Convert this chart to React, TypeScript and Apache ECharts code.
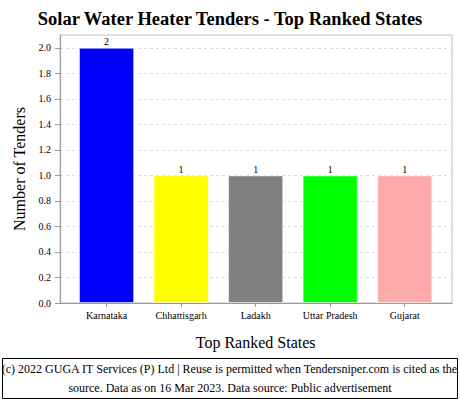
import { useEffect, useRef } from "react";
import * as echarts from "echarts";

const states = ["Karnataka", "Chhattisgarh", "Ladakh", "Uttar Pradesh", "Gujarat"];
const tenders = [2, 1, 1, 1, 1];
const barColors = ["#0000ff", "#ffff00", "#808080", "#00ff00", "#ffaaaa"];
const footerLines = [
  "(c) 2022 GUGA IT Services (P) Ltd | Reuse is permitted when Tendersniper.com is cited as the",
  "source. Data as on 16 Mar 2023. Data source: Public advertisement",
];

const serif = "'Liberation Serif', 'DejaVu Serif', serif";
const axisGray = "#999";

export default function App() {
  const ref = useRef<HTMLDivElement>(null);

  useEffect(() => {
    if (!ref.current) return;
    const chart = echarts.init(ref.current, undefined, { renderer: "svg" });
    chart.setOption({
      animation: false,
      backgroundColor: "#fff",
      title: {
        text: "Solar Water Heater Tenders - Top Ranked States",
        left: "center",
        top: 4,
        textStyle: { fontFamily: serif, fontSize: 18.5, fontWeight: "bold", color: "#000" },
      },
      grid: [
        // outer frame: y axis, grid lines, border
        {
          left: 60,
          right: 8,
          top: 35,
          bottom: 97,
          show: true,
          borderColor: "#c0c0c0",
          borderWidth: 1,
          backgroundColor: "transparent",
        },
        // inner band where the categories sit
        { left: 69.3, right: 18, top: 35, bottom: 97 },
      ],
      xAxis: [
        {
          gridIndex: 0,
          type: "value",
          min: 0,
          max: 1,
          axisLine: { show: true, onZero: false, lineStyle: { color: axisGray } },
          axisTick: { show: false },
          axisLabel: { show: false },
          splitLine: { show: false },
        },
        {
          gridIndex: 1,
          type: "category",
          data: states,
          name: "Top Ranked States",
          nameLocation: "middle",
          nameGap: 31,
          nameTextStyle: { fontFamily: serif, fontSize: 16, color: "#000" },
          axisLine: { show: false },
          axisTick: { show: true, alignWithLabel: true, length: 4, lineStyle: { color: axisGray } },
          axisLabel: { fontFamily: serif, fontSize: 10, color: "#000", margin: 7 },
        },
      ],
      yAxis: [
        {
          gridIndex: 0,
          type: "value",
          min: 0,
          max: 2.1,
          interval: 0.2,
          name: "Number of Tenders",
          nameLocation: "middle",
          nameGap: 30,
          nameTextStyle: { fontFamily: serif, fontSize: 16, color: "#000" },
          axisLine: { show: true, lineStyle: { color: axisGray } },
          axisTick: { show: true, length: 5, lineStyle: { color: axisGray } },
          axisLabel: {
            fontFamily: serif,
            fontSize: 10,
            color: "#000",
            margin: 9,
            showMaxLabel: false,
            formatter: (v: number) => v.toFixed(1),
          },
          splitLine: { lineStyle: { color: "#ddd", type: [3, 3] } },
        },
        {
          gridIndex: 1,
          type: "value",
          min: 0,
          max: 2.1,
          show: false,
        },
      ],
      series: [
        {
          type: "bar",
          xAxisIndex: 1,
          yAxisIndex: 1,
          barWidth: "74%",
          data: tenders.map((v, i) => ({
            value: v,
            itemStyle: { color: barColors[i], borderColor: "rgba(255,255,255,0.5)", borderWidth: 1 },
          })),
          label: {
            show: true,
            position: "top",
            distance: 1,
            fontFamily: serif,
            fontSize: 10,
            color: "#000",
          },
        },
      ],
      graphic: [
        {
          type: "rect",
          left: 2,
          top: 358,
          shape: { width: 455, height: 40 },
          style: { fill: "#fff", stroke: "#000", lineWidth: 1 },
        },
        ...footerLines.map((t, i) => ({
          type: "text",
          left: "center",
          top: 363 + i * 19,
          style: { text: t, font: `12px ${serif}`, fill: "#000" },
        })),
      ],
    });
    return () => chart.dispose();
  }, []);

  return (
    <div
      ref={ref}
      style={{ position: "absolute", left: 0, top: 0, width: 460, height: 400 }}
    />
  );
}
